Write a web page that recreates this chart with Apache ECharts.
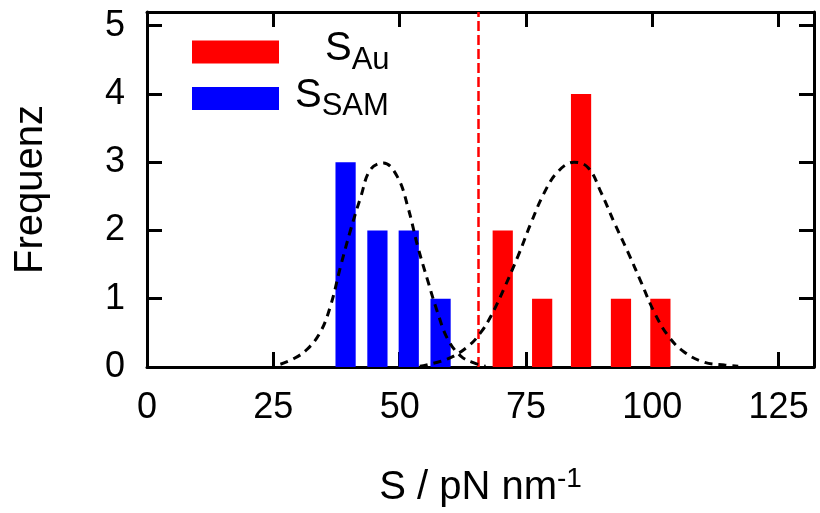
<!DOCTYPE html>
<html><head><meta charset="utf-8">
<script src="https://cdn.jsdelivr.net/npm/echarts@6/dist/echarts.min.js"></script>
<style>html,body{margin:0;padding:0;background:#fff}#c{width:820px;height:513px}</style>
</head><body><div id="c"></div>
<script>
// ---- data ----
const xTicks = [0, 25, 50, 75, 100, 125];
const yTicks = [0, 1, 2, 3, 4, 5];
const samCenters = [39.3, 45.6, 51.8, 58.1];
const samCounts  = [3, 2, 2, 1];
const auCenters  = [70.4, 78.2, 85.9, 93.8, 101.6];
const auCounts   = [2, 1, 4, 1, 1];
const samFitX = [26.4, 29.0, 31.7, 34.3, 36.3, 38.3, 40.3, 42.3, 44.2, 46.8, 49.6, 51.6, 53.6, 55.5, 57.5, 59.5, 62.1, 64.7, 67.0];
const samFitY = [0.04, 0.12, 0.26, 0.51, 0.89, 1.47, 2.01, 2.49, 2.89, 2.99, 2.78, 2.35, 1.76, 1.28, 0.80, 0.41, 0.16, 0.06, 0.01];
const auFitX = [54.0, 59.5, 63.5, 66.1, 68.1, 70.6, 73.4, 76.0, 78.6, 81.3, 84.5, 87.3, 89.9, 92.5, 95.2, 97.8, 100.4, 103.2, 106.3, 110.3, 114.3, 117.0];
const auFitY = [0.01, 0.12, 0.30, 0.51, 0.75, 1.14, 1.62, 2.11, 2.55, 2.86, 3.00, 2.92, 2.55, 2.11, 1.68, 1.24, 0.80, 0.45, 0.22, 0.07, 0.03, 0.01];
const thresholdX = 65.5;
const seriesNames = ['S_Au', 'S_SAM'];

// ---- rendering ----
const FONT = 'Liberation Sans, Arial, sans-serif';
const BAR_W = 4;
const chart = echarts.init(document.getElementById('c'), null, {renderer: 'canvas'});

function barRender(params, api) {
  const x = api.value(0), y = api.value(1);
  const p0 = api.coord([x - BAR_W / 2, y]);
  const p1 = api.coord([x + BAR_W / 2, 0]);
  return {type: 'rect', shape: {x: p0[0], y: p0[1], width: p1[0] - p0[0], height: p1[1] - p0[1]},
    style: {fill: api.visual('color')}};
}
const zip = (a, b) => a.map((v, i) => [v, b[i]]);

const axisLine = {onZero: false, lineStyle: {color: '#000', width: 3}};
const axisTick = {inside: true, length: 15, lineStyle: {color: '#000', width: 3}};
const labelStyle = {color: '#000', fontSize: 36, fontFamily: FONT};

const option = {
  animation: false,
  backgroundColor: '#fff',
  grid: {left: 147, right: 6, top: 12, bottom: 145, show: false},
  legend: {
    orient: 'vertical', left: 187, top: 24, itemWidth: 87, itemHeight: 23, itemGap: 0,
    icon: 'rect', selectedMode: false,
    data: seriesNames,
    formatter: function (n) {
      return n === 'S_Au' ? '{padA|}{s|S}{sub|Au}' : '{padB|}{s|S}{sub|SAM}';
    },
    textStyle: {
      color: '#000', fontFamily: FONT,
      rich: {
        padA: {width: 41, height: 46},
        padB: {width: 11, height: 46},
        s: {fontSize: 40, fontFamily: FONT, color: '#000', height: 40, padding: [0, 0, 6, 0]},
        sub: {fontSize: 31, fontFamily: FONT, color: '#000', height: 30, padding: [16, 0, 0, 0]}
      }
    }
  },
  xAxis: [
    {type: 'value', position: 'bottom', min: 0, max: 132, interval: 25,
      axisLine: axisLine, splitLine: {show: false},
      axisTick: Object.assign({}, axisTick, {customValues: xTicks}),
      axisLabel: Object.assign({margin: 23, customValues: xTicks}, labelStyle),
      name: '{a|S / pN nm}{sup|-1}', nameLocation: 'middle', nameGap: 98,
      nameTextStyle: {color: '#000', fontFamily: FONT, rich: {
        a: {fontSize: 40, fontFamily: FONT, color: '#000'},
        sup: {fontSize: 28, fontFamily: FONT, color: '#000', padding: [0, 0, 18, 0]}
      }}
    },
    {type: 'value', position: 'top', min: 0, max: 132, interval: 25,
      axisLine: axisLine, axisTick: axisTick, axisLabel: {show: false}, splitLine: {show: false}}
  ],
  yAxis: [
    {type: 'value', position: 'left', min: 0, max: 5.2, interval: 1,
      axisLine: axisLine, axisTick: axisTick, splitLine: {show: false},
      axisLabel: Object.assign({margin: 22, customValues: yTicks}, labelStyle),
      name: 'Frequenz', nameLocation: 'middle', nameGap: 96, nameRotate: 90,
      nameTextStyle: {color: '#000', fontSize: 40, fontFamily: FONT}},
    {type: 'value', position: 'right', min: 0, max: 5.2, interval: 1,
      axisLine: axisLine, axisTick: axisTick, axisLabel: {show: false}, splitLine: {show: false}}
  ],
  series: [
    {name: 'S_Au', type: 'custom', renderItem: barRender, data: zip(auCenters, auCounts),
      itemStyle: {color: '#ff0000'}, encode: {x: 0, y: 1}, z: 2,
      markLine: {symbol: 'none', silent: true, label: {show: false},
        lineStyle: {color: '#ff0000', width: 2.5, type: [10, 4]}, data: [{xAxis: thresholdX}]}},
    {name: 'S_SAM', type: 'custom', renderItem: barRender, data: zip(samCenters, samCounts),
      itemStyle: {color: '#0000ff'}, encode: {x: 0, y: 1}, z: 2},
    {name: 'fitSAM', type: 'line', data: zip(samFitX, samFitY), smooth: 0.4, showSymbol: false,
      lineStyle: {color: '#000', width: 3, type: [8, 6]}, z: 5},
    {name: 'fitAu', type: 'line', data: zip(auFitX, auFitY), smooth: 0.4, showSymbol: false,
      lineStyle: {color: '#000', width: 3, type: [8, 6]}, z: 5}
  ]
};
chart.setOption(option);
</script></body></html>
